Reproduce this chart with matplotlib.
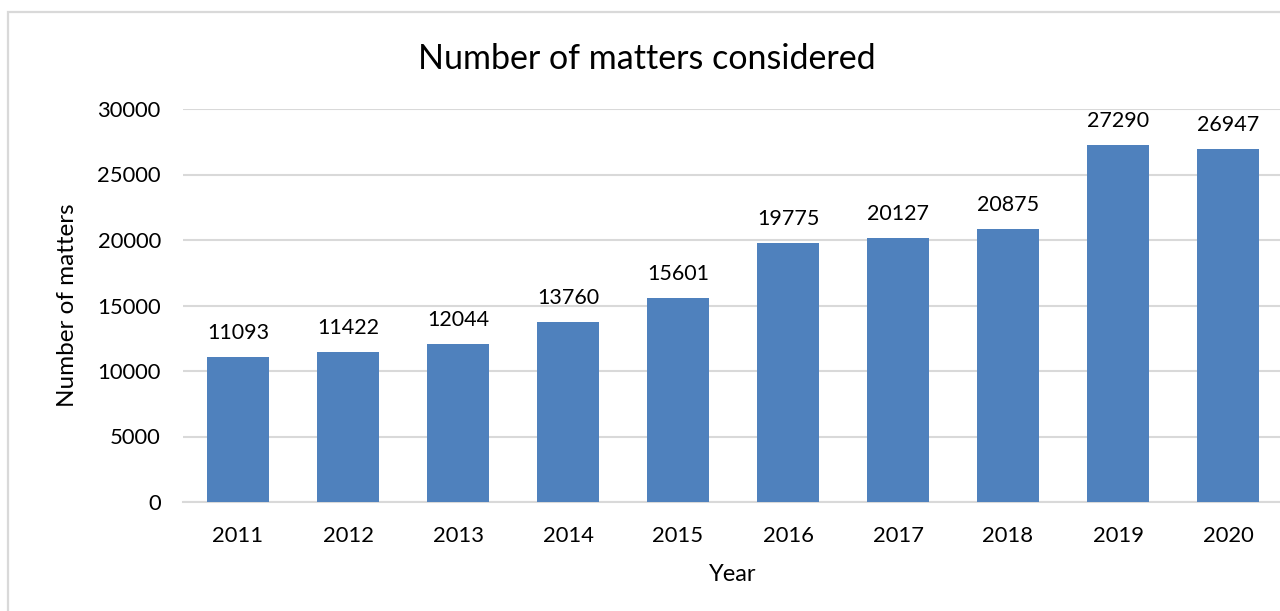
import matplotlib
matplotlib.use("Agg")
import matplotlib.pyplot as plt
from matplotlib.patches import Rectangle

years = ["2011", "2012", "2013", "2014", "2015", "2016", "2017", "2018", "2019", "2020"]
matters = [11093, 11422, 12044, 13760, 15601, 19775, 20127, 20875, 27290, 26947]
yticks = [0, 5000, 10000, 15000, 20000, 25000, 30000]

plt.rcParams['font.family'] = ['Lato', 'DejaVu Sans']
W, H = 1280, 611
fig = plt.figure(figsize=(W / 100, H / 100), dpi=100)
fig.patch.set_facecolor("white")

# chart border (light grey), extends beyond the right/bottom edges
fig.add_artist(Rectangle((8 / W, -0.1), 1.2, 1 - 12 / H + 0.1, transform=fig.transFigure,
                         fill=False, edgecolor="#d9d9d9", linewidth=1.6))

ax = fig.add_axes([183 / W, 1 - 502 / H, 1100 / W, (502 - 109) / H])
x = list(range(len(years)))
bars = ax.bar(x, matters, width=0.555, color="#4F81BD", zorder=3)
ax.set_xlim(-0.5, len(years) - 0.5)
ax.set_ylim(0, 30000)
ax.set_yticks(yticks)
ax.set_yticklabels([str(v) for v in yticks])
ax.set_xticks(x)
ax.set_xticklabels(years)
ax.tick_params(axis="both", length=0, labelsize=15.8, colors="#000000")
ax.tick_params(axis="y", pad=16)
ax.tick_params(axis="x", pad=17.5)
ax.grid(axis="y", color="#d9d9d9", linewidth=1.5, zorder=0)
for s in ["left", "right", "top"]:
    ax.spines[s].set_visible(False)
ax.spines["bottom"].set_color("#d9d9d9")
ax.spines["bottom"].set_linewidth(1.5)

for xi, v in zip(x, matters):
    ax.annotate(str(v), (xi, v), xytext=(0, 10), textcoords="offset points",
                ha="center", va="bottom", fontsize=15.5, color="#000000")

ax.set_ylabel("Number of matters", fontsize=17.5, labelpad=14)
ax.set_xlabel("Year", fontsize=17, labelpad=13)
fig.text(647 / W, 1 - 59 / H, "Number of matters considered", ha="center", va="center",
         fontsize=24.5)

fig.savefig("out.png", dpi=100)
